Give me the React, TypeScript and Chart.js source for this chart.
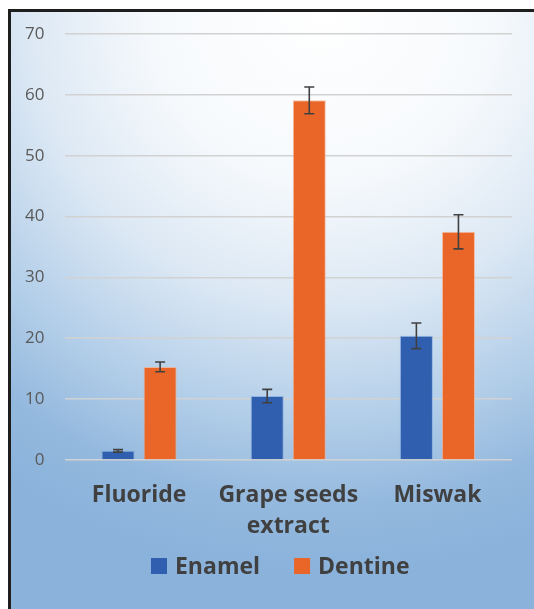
import React, { useEffect, useRef } from "react";
import { Chart, registerables } from "chart.js";

Chart.register(...registerables);

const categories: (string | string[])[] = ["Fluoride", ["Grape seeds", "extract"], "Miswak"];
const enamelValues = [1.5, 10.5, 20.4];
const enamelErrors = [0.2, 1.1, 2.1];
const dentineValues = [15.3, 59.1, 37.5];
const dentineErrors = [0.8, 2.2, 2.8];
const yTicks = { min: 0, max: 70, step: 10 };

const errorsByDataset = [enamelErrors, dentineErrors];

const errorBarPlugin = {
  id: "errorBars",
  afterDatasetsDraw(chart: any) {
    const ctx = chart.ctx;
    const yScale = chart.scales.y;
    ctx.save();
    ctx.strokeStyle = "#404040";
    ctx.lineWidth = 1.6;
    chart.data.datasets.forEach((ds: any, di: number) => {
      const meta = chart.getDatasetMeta(di);
      const errs = errorsByDataset[di];
      meta.data.forEach((el: any, i: number) => {
        const v = ds.data[i];
        const e = errs[i];
        const x = el.x;
        const yTop = yScale.getPixelForValue(v + e);
        const yBot = yScale.getPixelForValue(v - e);
        const cap = 5;
        ctx.beginPath();
        ctx.moveTo(x, yTop);
        ctx.lineTo(x, yBot);
        ctx.moveTo(x - cap, yTop);
        ctx.lineTo(x + cap, yTop);
        ctx.moveTo(x - cap, yBot);
        ctx.lineTo(x + cap, yBot);
        ctx.stroke();
      });
    });
    ctx.restore();
  },
};

// Legend drawn on the canvas below the axis labels, spaced like the original.
const legendPlugin = {
  id: "spacedLegend",
  afterDraw(chart: any) {
    const ctx = chart.ctx;
    const area = chart.chartArea;
    const datasets = chart.data.datasets;
    const box = 16;
    const boxGap = 8;
    const itemGap = 34;
    ctx.save();
    ctx.font = "bold 23px 'Open Sans'";
    ctx.textBaseline = "middle";
    const widths = datasets.map((d: any) => box + boxGap + ctx.measureText(d.label).width);
    const total = widths.reduce((a: number, b: number) => a + b, 0) + itemGap * (datasets.length - 1);
    const centerX = (area.left + area.right) / 2 - 8;
    const y = area.bottom + 106;
    let x = centerX - total / 2;
    datasets.forEach((d: any, i: number) => {
      ctx.fillStyle = d.backgroundColor;
      ctx.fillRect(x, y - box / 2, box, box);
      ctx.fillStyle = "#404040";
      ctx.fillText(d.label, x + box + boxGap, y + 1);
      x += widths[i] + itemGap;
    });
    ctx.restore();
  },
};

export default function App() {
  const ref = useRef<HTMLCanvasElement | null>(null);
  useEffect(() => {
    if (!ref.current) return;
    const chart = new Chart(ref.current, {
      type: "bar",
      data: {
        labels: categories as any,
        datasets: [
          {
            label: "Enamel",
            data: enamelValues,
            backgroundColor: "#2f5fae",
            borderColor: "rgba(120,160,220,0.6)",
            borderWidth: 1,
            categoryPercentage: 0.564,
            barPercentage: 0.786,
          },
          {
            label: "Dentine",
            data: dentineValues,
            backgroundColor: "#ea6628",
            borderColor: "rgba(250,170,130,0.7)",
            borderWidth: 1,
            categoryPercentage: 0.564,
            barPercentage: 0.786,
          },
        ],
      },
      options: {
        animation: false,
        responsive: false,
        maintainAspectRatio: false,
        layout: { padding: { top: 34, right: 22, left: 0, bottom: 63 } },
        scales: {
          y: {
            min: yTicks.min,
            max: yTicks.max,
            ticks: {
              stepSize: yTicks.step,
              padding: 20,
              color: "#595959",
              font: { family: "Open Sans", size: 17 },
            },
            grid: { color: "#d2d2d2", lineWidth: 1.6, drawTicks: false },
            border: { display: false },
            afterFit: (s: any) => {
              s.width = 64.5;
            },
          },
          x: {
            ticks: {
              padding: 20,
              color: "#404040",
              font: { family: "Open Sans", size: 23, weight: "bold", lineHeight: 1.35 },
              maxRotation: 0,
              autoSkip: false,
            },
            grid: { display: false, drawTicks: false },
            border: { display: false },
            afterFit: (s: any) => {
              s.height = 86;
            },
          },
        },
        plugins: {
          legend: { display: false },
          tooltip: { enabled: false },
        },
      },
      plugins: [errorBarPlugin, legendPlugin],
    });
    return () => chart.destroy();
  }, []);

  return (
    <div style={{ position: "fixed", left: 0, top: 0, width: 534, height: 609, overflow: "hidden", background: "#ffffff" }}>
      <div
        style={{
          position: "absolute",
          left: 8,
          top: 9,
          width: 600,
          height: 700,
          borderLeft: "3px solid #1e1e1e",
          borderTop: "3px solid #1e1e1e",
          background:
            "radial-gradient(ellipse 95% 80% at 52% 0%, #ffffff 0%, #f6f9fc 30%, #dce8f4 52%, #b4cfe9 72%, #94b9de 88%, #8ab2db 100%)",
        }}
      />
      <canvas ref={ref} width={534} height={609} style={{ position: "absolute", left: 0, top: 0 }} />
    </div>
  );
}
